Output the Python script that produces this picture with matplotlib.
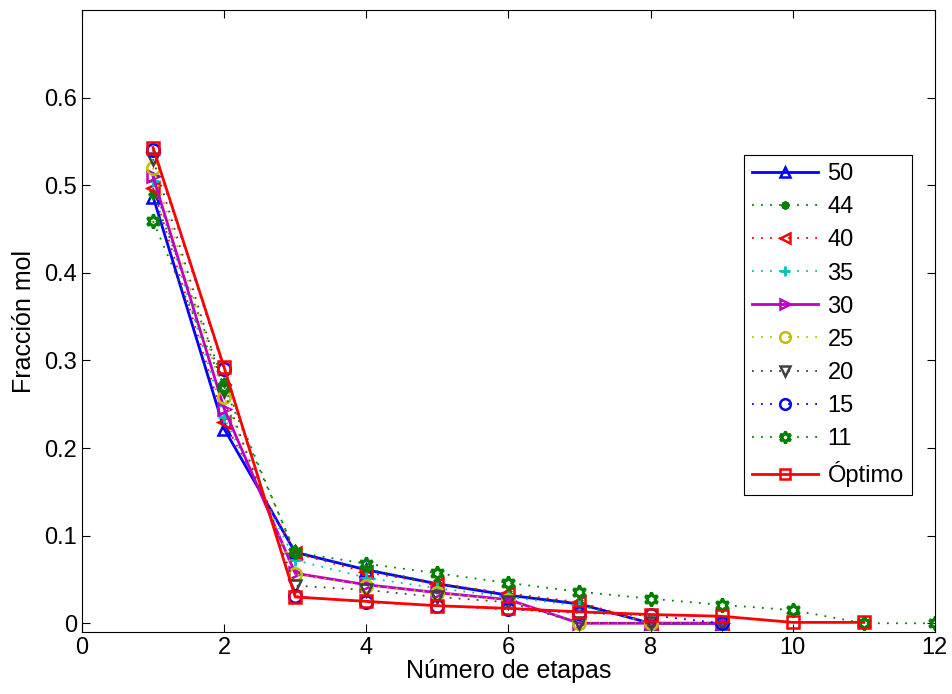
import matplotlib
matplotlib.use('Agg')
import matplotlib.pyplot as plt

matplotlib.rcParams['font.family'] = ['Liberation Sans', 'DejaVu Sans']
matplotlib.rcParams['font.size'] = 17

# etapas
x9 = [1, 2, 3, 4, 5, 6, 7, 8, 9]
x11 = [1, 2, 3, 4, 5, 6, 7, 8, 9, 10, 11]
x12 = [1, 2, 3, 4, 5, 6, 7, 8, 9, 10, 11, 12]

# fraccion mol por caso
y50 = [0.487, 0.222, 0.081, 0.061, 0.045, 0.032, 0.022, 0.0, 0.0]
y44 = [0.490, 0.275, 0.080, 0.062, 0.046, 0.033, 0.023, 0.0, 0.0]
y40 = [0.497, 0.230, 0.080, 0.058, 0.045, 0.034, 0.024, 0.0, 0.0]
y35 = [0.505, 0.235, 0.072, 0.052, 0.040, 0.030, 0.020, 0.0, 0.0]
y30 = [0.510, 0.245, 0.057, 0.044, 0.035, 0.027, 0.0, 0.0, 0.0]
y25 = [0.520, 0.258, 0.056, 0.043, 0.035, 0.026, 0.0, 0.0, 0.0]
y20 = [0.530, 0.265, 0.043, 0.038, 0.030, 0.024, 0.0, 0.0, 0.0]
y15 = [0.540, 0.290, 0.031, 0.024, 0.020, 0.016, 0.012, 0.009, 0.0]
y11 = [0.459, 0.270, 0.081, 0.068, 0.057, 0.046, 0.036, 0.028, 0.021, 0.015, 0.0, 0.0]
yopt = [0.543, 0.292, 0.030, 0.025, 0.020, 0.017, 0.013, 0.010, 0.008, 0.001, 0.001]

verde = (0, 0.5, 0)
punteado = (0, (1, 4))
fig = plt.figure(figsize=(9.52, 6.94), dpi=100)
ax = fig.add_axes([0.0861, 0.0893, 0.8959, 0.8963])

ax.plot(x9, y50, '-', color='b', lw=2, marker='^', mfc='none', mec='b', ms=9, mew=1.8, label='50')
ax.plot(x9, y44, ls=punteado, color=verde, lw=1.3, marker=(8, 2, 0), mec=verde, ms=7, mew=1.5, label='44')
ax.plot(x9, y40, ls=punteado, color='r', lw=1.3, marker='<', mfc='none', mec='r', ms=9, mew=1.8, label='40')
ax.plot(x9, y35, ls=punteado, color='c', lw=1.3, marker='+', mec='c', ms=9, mew=2, label='35')
ax.plot(x9, y30, '-', color='m', lw=2, marker='>', mfc='none', mec='m', ms=9, mew=1.8, label='30')
ax.plot(x9, y25, ls=punteado, color=(0.75, 0.75, 0), lw=1.3, marker='o', mfc='none', mec=(0.75, 0.75, 0), ms=9, mew=1.8, label='25')
ax.plot(x9, y20, ls=punteado, color=(0.25, 0.25, 0.25), lw=1.3, marker='v', mfc='none', mec=(0.25, 0.25, 0.25), ms=9, mew=1.8, label='20')
ax.plot(x9, y15, ls=punteado, color='b', lw=1.3, marker='o', mfc='none', mec='b', ms=9, mew=1.8, label='15')
ax.plot(x12, y11, ls=punteado, color=verde, lw=1.3, marker=(6, 1, 0), mfc='none', mec=verde, ms=10, mew=2.2, label='11')
ax.plot(x11, yopt, '-', color='r', lw=2, marker='s', mfc='none', mec='r', ms=8, mew=1.8, label='Óptimo')

ax.set_xlim(0, 12)
ax.set_ylim(-0.01, 0.7)
ax.set_xticks(range(0, 13, 2))
ax.set_yticks([0, 0.1, 0.2, 0.3, 0.4, 0.5, 0.6])
ax.set_yticklabels(['0', '0.1', '0.2', '0.3', '0.4', '0.5', '0.6'])
ax.tick_params(direction='in', top=True, right=True, length=6, labelsize=17)
ax.set_xlabel('Número de etapas', labelpad=0, fontsize=18)
ax.set_ylabel('Fracción mol', labelpad=6, fontsize=18)

leg = ax.legend(loc='upper right', bbox_to_anchor=(912 / 952, 1 - 155 / 694),
                bbox_transform=fig.transFigure, fancybox=False, framealpha=1,
                edgecolor='k', handlelength=2.8, labelspacing=0.47, borderpad=0.35,
                handletextpad=0.4, borderaxespad=0, fontsize=17, markerscale=0.85)
leg.get_frame().set_linewidth(0.8)

fig.savefig('out.png', dpi=100)
